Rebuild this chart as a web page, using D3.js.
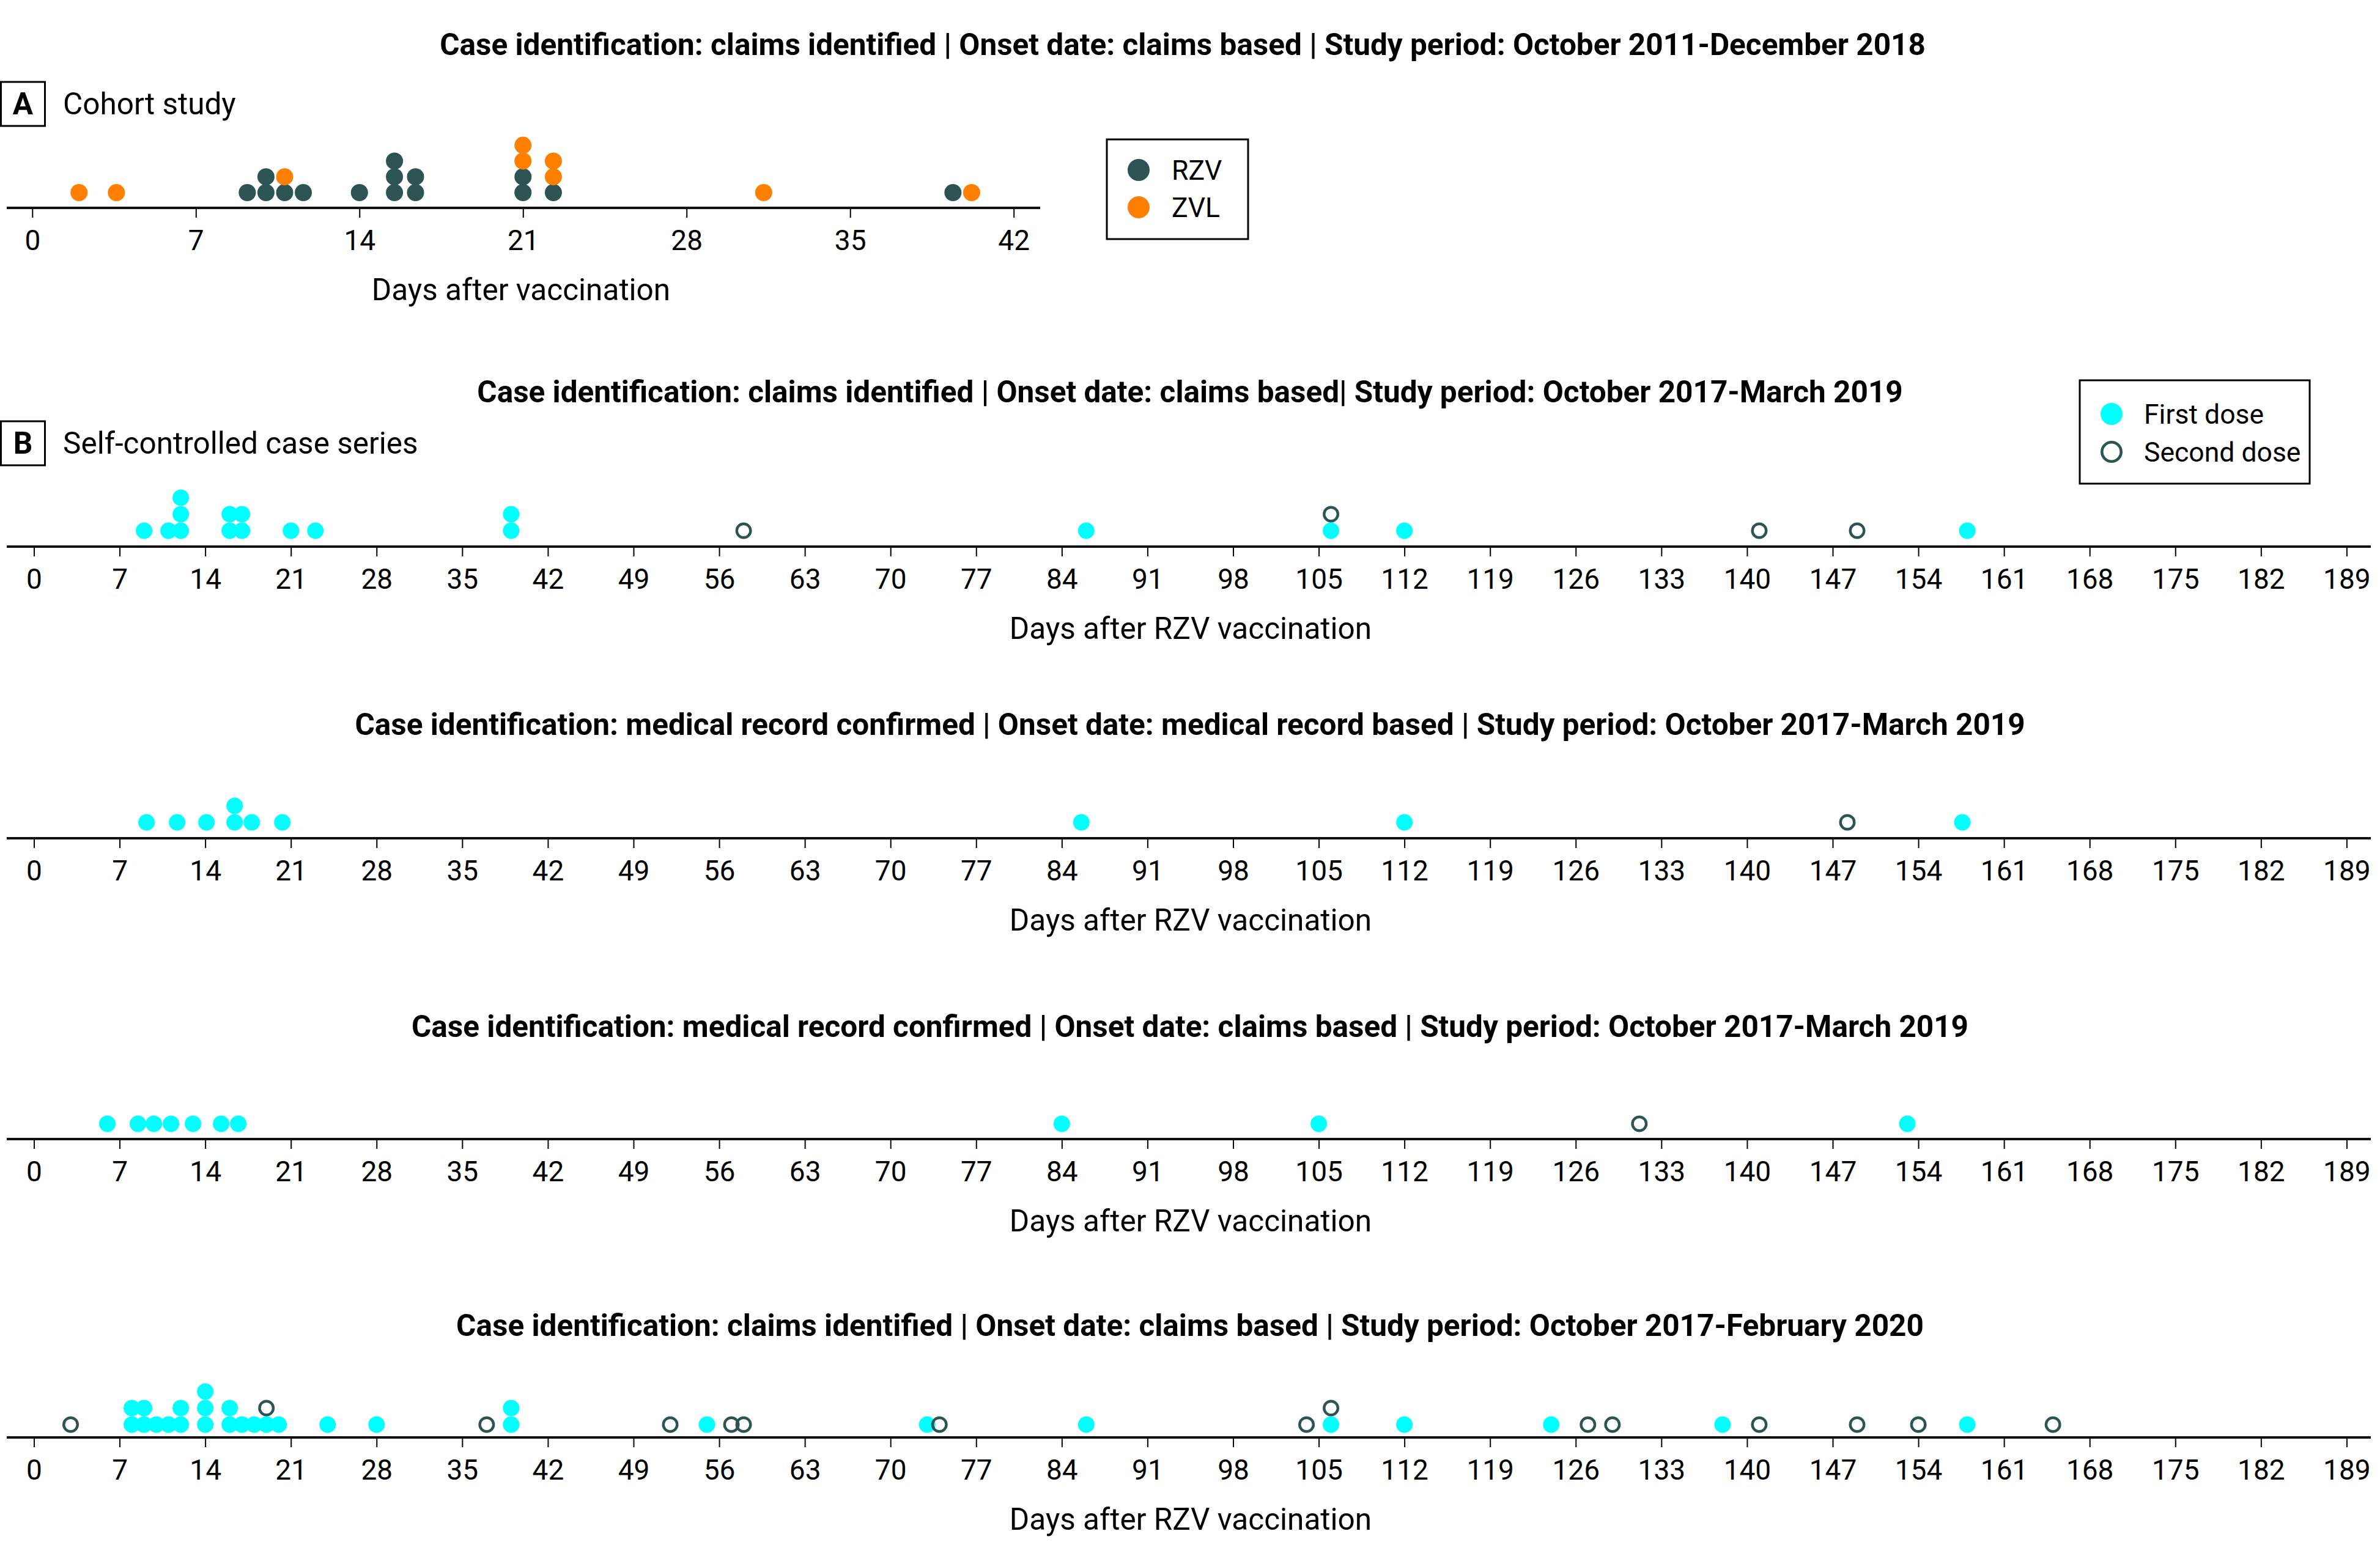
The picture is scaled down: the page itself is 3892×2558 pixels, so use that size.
<!DOCTYPE html>
<html><head><meta charset="utf-8">
<script src="https://cdn.jsdelivr.net/npm/d3@7"></script>
<style>
body{margin:0;background:#fff}
text{font-family:Roboto, "Noto Sans", sans-serif; fill:#000}
</style>
</head><body>
<svg id="chart" width="3892" height="2558"></svg>
<script>
// ---------- DATA ----------
const panelTitles = [
  "Case identification: claims identified | Onset date: claims based | Study period: October 2011-December 2018",
  "Case identification: claims identified | Onset date: claims based| Study period: October 2017-March 2019",
  "Case identification: medical record confirmed | Onset date: medical record based | Study period: October 2017-March 2019",
  "Case identification: medical record confirmed | Onset date: claims based | Study period: October 2017-March 2019",
  "Case identification: claims identified | Onset date: claims based | Study period: October 2017-February 2020"
];
const sectionLabels = ["A", "B"];
const sectionNames = ["Cohort study", "Self-controlled case series"];
const cohortAxisTitle = "Days after vaccination";
const sccsAxisTitle = "Days after RZV vaccination";

const cohortTicks = [0, 7, 14, 21, 28, 35, 42];
const sccsTicks = [0, 7, 14, 21, 28, 35, 42, 49, 56, 63, 70, 77, 84, 91, 98, 105, 112, 119, 126, 133, 140, 147, 154, 161, 168, 175, 182, 189];

const cohortLegend = ["RZV", "ZVL"];
const sccsLegend = ["First dose", "Second dose"];

// Panel A: cohort study (days after vaccination)
const cohortRZV = [9.2, 10, 10, 10.8, 11.6, 14, 15.5, 15.5, 15.5, 16.4, 16.4, 21, 21, 22.3, 39.4];
const cohortZVL = [2, 3.6, 10.8, 21, 21, 22.3, 22.3, 31.3, 40.2];

// Panel B1: claims identified, claims-based onset, Oct 2017-Mar 2019
const sccs1First = [9, 11, 12, 12, 12, 16, 16, 17, 17, 21, 23, 39, 39, 86, 106, 112, 158];
const sccs1Second = [58, 106, 141, 149];

// Panel B2: medical record confirmed, medical record onset
const sccs2First = [9.2, 11.7, 14.1, 16.4, 16.4, 17.8, 20.3, 85.6, 112, 157.6];
const sccs2Second = [148.2];

// Panel B3: medical record confirmed, claims-based onset
const sccs3First = [6, 8.5, 9.8, 11.2, 13, 15.3, 16.7, 84, 105, 153.1];
const sccs3Second = [131.2];

// Panel B4: claims identified, claims-based onset, Oct 2017-Feb 2020
const sccs4First = [8, 8, 9, 9, 10, 11, 12, 12, 14, 14, 14, 16, 16, 17, 18, 19, 20, 24, 28, 39, 39, 55, 73, 86, 106, 112, 124, 138, 158];
const sccs4Second = [3, 19, 37, 52, 57, 58, 74, 104, 106, 127, 129, 141, 149, 154, 165];

// ---------- STYLE ----------
const C_RZV = "#2b5453";
const C_ZVL = "#ff8000";
const C_FIRST = "#00ffff";
const C_SECOND = "#2b5453";
const FS_TITLE = 49.5, FS_LABEL = 49.5, FS_TICK = 46, FS_LEGEND = 44.5;

const svg = d3.select("#chart");

function stackDots(seriesList) {
  const counts = new Map();
  const out = [];
  seriesList.forEach((s, si) => {
    s.values.forEach(v => {
      const k = counts.get(v) || 0;
      counts.set(v, k + 1);
      out.push({ v, level: k, series: s });
    });
  });
  return out;
}

function drawPanel(cfg) {
  const g = svg.append("g");
  const x = d3.scaleLinear().domain(cfg.domain).range(cfg.range);
  // title
  g.append("text").attr("x", cfg.titleX).attr("y", cfg.titleY)
    .attr("text-anchor", "middle").attr("font-weight", "bold")
    .attr("font-size", FS_TITLE).text(cfg.title);
  // axis
  const axis = d3.axisBottom(x).tickValues(cfg.ticks).tickSize(16).tickSizeOuter(0);
  const ag = g.append("g").attr("transform", `translate(0,${cfg.axisY})`).call(axis);
  ag.select(".domain").remove();
  ag.selectAll(".tick line").attr("stroke", "#000").attr("stroke-width", 2);
  ag.selectAll(".tick text").attr("y", 69).attr("dy", null)
    .attr("font-size", FS_TICK).attr("font-family", "Roboto, sans-serif").attr("fill", "#000");
  g.append("line").attr("x1", cfg.lineX[0]).attr("x2", cfg.lineX[1])
    .attr("y1", cfg.axisY).attr("y2", cfg.axisY).attr("stroke", "#111").attr("stroke-width", 4);
  // axis title
  g.append("text").attr("x", cfg.axisTitleX).attr("y", cfg.axisY + 151)
    .attr("text-anchor", "middle").attr("font-size", FS_LABEL).text(cfg.axisTitle);
  // dots
  const dots = stackDots(cfg.series);
  g.selectAll("circle.dot").data(dots).join("circle").attr("class", "dot")
    .attr("cx", d => x(d.v))
    .attr("cy", d => cfg.axisY - cfg.base - d.level * cfg.spacing)
    .attr("r", d => d.series.open ? cfg.r - 2.2 : cfg.r)
    .attr("fill", d => d.series.open ? "none" : d.series.color)
    .attr("stroke", d => d.series.open ? d.series.color : "none")
    .attr("stroke-width", d => d.series.open ? 4.4 : 0);
}

function drawSection(label, name, boxY, textY) {
  svg.append("rect").attr("x", 1.5).attr("y", boxY).attr("width", 72).attr("height", 72)
    .attr("fill", "none").attr("stroke", "#000").attr("stroke-width", 3);
  svg.append("text").attr("x", 37.5).attr("y", textY).attr("text-anchor", "middle")
    .attr("font-weight", "bold").attr("font-size", FS_LABEL).text(label);
  svg.append("text").attr("x", 103).attr("y", textY).attr("font-size", FS_LABEL).text(name);
}

function drawLegend(box, items, markerX, rowsY, textX) {
  svg.append("rect").attr("x", box[0]).attr("y", box[1]).attr("width", box[2]).attr("height", box[3])
    .attr("fill", "#fff").attr("stroke", "#000").attr("stroke-width", 3);
  items.forEach((it, i) => {
    svg.append("circle").attr("cx", markerX).attr("cy", rowsY[i])
      .attr("r", it.open ? 15.7 : 18)
      .attr("fill", it.open ? "none" : it.color)
      .attr("stroke", it.open ? it.color : "none")
      .attr("stroke-width", it.open ? 4.6 : 0);
    svg.append("text").attr("x", textX).attr("y", rowsY[i] + 16)
      .attr("font-size", FS_LEGEND).text(it.label);
  });
}

// ---------- PANELS ----------
drawSection(sectionLabels[0], sectionNames[0], 134, 187);
drawPanel({
  title: panelTitles[0], titleX: 1934, titleY: 90,
  domain: [0, 42], range: [52.8, 1657.7], ticks: cohortTicks,
  lineX: [11, 1701], axisY: 340, axisTitle: cohortAxisTitle, axisTitleX: 852,
  base: 25, spacing: 25.8, r: 14,
  series: [{ values: cohortRZV, color: C_RZV }, { values: cohortZVL, color: C_ZVL }]
});
drawLegend([1810, 228, 231, 163],
  [{ label: cohortLegend[0], color: C_RZV }, { label: cohortLegend[1], color: C_ZVL }],
  1862, [278, 339], 1916);

drawSection(sectionLabels[1], sectionNames[1], 689, 742);

const sccsPanels = [
  { title: panelTitles[1], titleY: 658, axisY: 894, base: 26, first: sccs1First, second: sccs1Second },
  { title: panelTitles[2], titleY: 1202, axisY: 1371, base: 26, first: sccs2First, second: sccs2Second },
  { title: panelTitles[3], titleY: 1696, axisY: 1863, base: 25, first: sccs3First, second: sccs3Second },
  { title: panelTitles[4], titleY: 2185, axisY: 2351, base: 21, first: sccs4First, second: sccs4Second }
];
sccsPanels.forEach(p => drawPanel({
  title: p.title, titleX: 1946, titleY: p.titleY,
  domain: [0, 189], range: [55.5, 3837.4], ticks: sccsTicks,
  lineX: [11, 3877], axisY: p.axisY, axisTitle: sccsAxisTitle, axisTitleX: 1947,
  base: p.base, spacing: 27, r: 13.5,
  series: [{ values: p.first, color: C_FIRST }, { values: p.second, color: C_SECOND, open: true }]
}));
drawLegend([3401, 622, 376, 169],
  [{ label: sccsLegend[0], color: C_FIRST }, { label: sccsLegend[1], color: C_SECOND, open: true }],
  3453, [677, 739], 3506);
</script>
</body></html>
